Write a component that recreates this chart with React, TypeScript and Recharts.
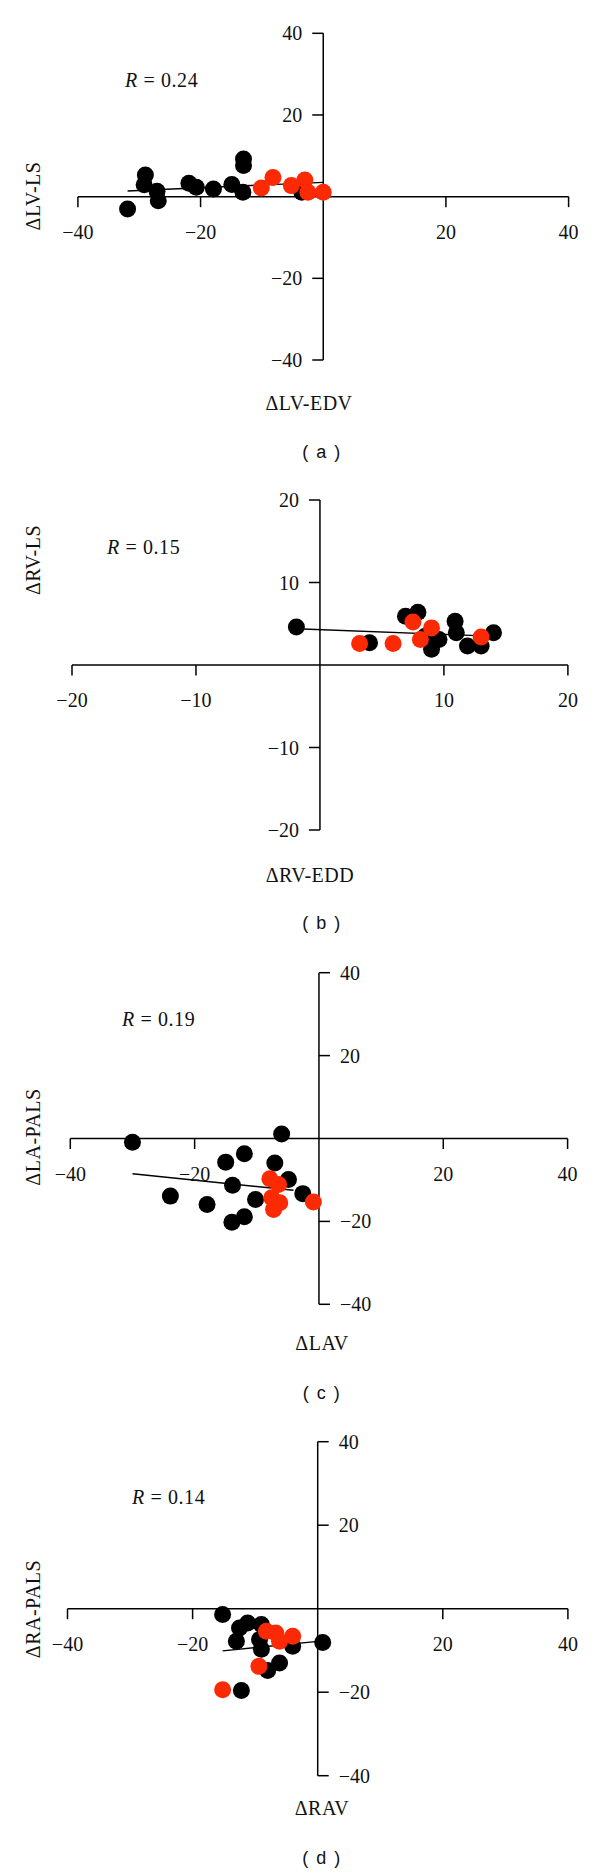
import React from 'react';
import { ScatterChart, Scatter, XAxis, YAxis, ReferenceLine, ReferenceDot } from 'recharts';

type Pt = { x: number; y: number };

// (a) ΔLV-EDV vs ΔLV-LS
const lvBlack: Pt[] = [
  { x: -31.9, y: -3.0 }, { x: -29.0, y: 5.3 }, { x: -29.2, y: 2.9 }, { x: -27.1, y: 1.3 },
  { x: -26.9, y: -1.0 }, { x: -21.9, y: 3.3 }, { x: -20.7, y: 2.3 }, { x: -17.9, y: 1.9 },
  { x: -14.9, y: 3.0 }, { x: -13.0, y: 9.2 }, { x: -13.0, y: 7.6 }, { x: -13.1, y: 1.1 },
  { x: -3.5, y: 1.1 },
];
const lvRed: Pt[] = [
  { x: -10.1, y: 2.1 }, { x: -8.2, y: 4.7 }, { x: -5.2, y: 2.7 }, { x: -3.0, y: 4.1 },
  { x: -2.5, y: 1.1 }, { x: 0.0, y: 1.1 },
];
const lvFit: Pt[] = [{ x: -31.9, y: 1.4 }, { x: 0, y: 3.5 }];

// (b) ΔRV-EDD vs ΔRV-LS
const rvBlack: Pt[] = [
  { x: -1.9, y: 4.6 }, { x: 4.0, y: 2.7 }, { x: 6.9, y: 5.9 }, { x: 7.9, y: 6.4 },
  { x: 8.5, y: 3.5 }, { x: 9.6, y: 3.1 }, { x: 9.0, y: 1.9 }, { x: 10.9, y: 5.3 },
  { x: 11.0, y: 3.9 }, { x: 11.9, y: 2.3 }, { x: 13.0, y: 2.3 }, { x: 14.0, y: 3.9 },
];
const rvRed: Pt[] = [
  { x: 3.2, y: 2.6 }, { x: 5.9, y: 2.6 }, { x: 7.5, y: 5.2 }, { x: 9.0, y: 4.5 },
  { x: 8.1, y: 3.1 }, { x: 13.0, y: 3.4 },
];
const rvFit: Pt[] = [{ x: -1.9, y: 4.4 }, { x: 13.75, y: 3.5 }];

// (c) ΔLAV vs ΔLA-PALS
const laBlack: Pt[] = [
  { x: -30.0, y: -0.9 }, { x: -6.0, y: 1.1 }, { x: -12.0, y: -3.7 }, { x: -15.0, y: -5.7 },
  { x: -7.1, y: -5.9 }, { x: -4.9, y: -9.9 }, { x: -13.9, y: -11.3 }, { x: -23.9, y: -13.9 },
  { x: -18.0, y: -15.9 }, { x: -10.2, y: -14.7 }, { x: -2.6, y: -13.3 }, { x: -12.0, y: -18.9 },
  { x: -14.0, y: -20.2 },
];
const laRed: Pt[] = [
  { x: -7.9, y: -9.7 }, { x: -6.5, y: -11.1 }, { x: -7.6, y: -14.3 }, { x: -6.3, y: -15.5 },
  { x: -7.3, y: -17.1 }, { x: -0.9, y: -15.3 },
];
const laFit: Pt[] = [{ x: -30.0, y: -8.5 }, { x: -4.1, y: -12.5 }];

// (d) ΔRAV vs ΔRA-PALS
const raBlack: Pt[] = [
  { x: -15.2, y: -1.4 }, { x: -11.2, y: -3.4 }, { x: -12.5, y: -4.6 }, { x: -9.0, y: -3.8 },
  { x: -13.0, y: -7.8 }, { x: -9.3, y: -7.4 }, { x: -9.0, y: -9.7 }, { x: -4.0, y: -9.0 },
  { x: 0.8, y: -8.1 }, { x: -6.1, y: -13.0 }, { x: -8.0, y: -14.8 }, { x: -12.2, y: -19.6 },
];
const raRed: Pt[] = [
  { x: -8.2, y: -5.4 }, { x: -6.7, y: -5.8 }, { x: -4.0, y: -6.6 }, { x: -6.1, y: -7.8 },
  { x: -9.4, y: -13.8 }, { x: -15.2, y: -19.4 },
];
const raFit: Pt[] = [{ x: -15.2, y: -10.1 }, { x: 0.8, y: -7.7 }];

const ticks40 = [-40, -20, 20, 40];
const ticks20 = [-20, -10, 10, 20];

const SERIF = "'Liberation Serif', 'DejaVu Serif', serif";
const SANS = "'Liberation Sans', Arial, sans-serif";
const RED = '#fb2a05';
const R = 8.5;
const FS = 20;

const fmt = (v: number) => (v < 0 ? '\u2212' + Math.abs(v) : String(v));

const dot = (fill: string) => (p: any) => <circle cx={p.cx} cy={p.cy} r={R} fill={fill} />;

type Geo = { top: number; h: number; left: number; right: number; pTop: number; pBottom: number };

function Panel({
  geo, black, red, fit, xTicks, yTicks, max, yMax, ySide,
}: {
  geo: Geo; black: Pt[]; red: Pt[]; fit: Pt[]; xTicks: number[]; yTicks: number[];
  max: number; yMax: number; ySide: 'left' | 'right';
}) {
  const margin = {
    top: geo.pTop - geo.top,
    bottom: geo.top + geo.h - geo.pBottom,
    left: geo.left,
    right: 600 - geo.right,
  };
  const xTick = (v: number) => (p: any) => (
    <g>
      <line x1={p.cx} y1={p.cy} x2={p.cx} y2={p.cy + 10.5} stroke="#000" strokeWidth={1.5} />
      <text x={p.cx} y={p.cy + 35} textAnchor="middle" dominantBaseline="central"
        fontFamily={SERIF} fontSize={FS} fill="#111">{fmt(v)}</text>
    </g>
  );
  const yTick = (v: number) => (p: any) => {
    const d = ySide === 'left' ? -1 : 1;
    return (
      <g>
        <line x1={p.cx} y1={p.cy} x2={p.cx + d * 11} y2={p.cy} stroke="#000" strokeWidth={1.5} />
        <text x={p.cx + d * 21} y={p.cy} textAnchor={ySide === 'left' ? 'end' : 'start'}
          dominantBaseline="central" fontFamily={SERIF} fontSize={FS} fill="#111">{fmt(v)}</text>
      </g>
    );
  };
  return (
    <div style={{ position: 'absolute', left: 0, top: geo.top }}>
      <ScatterChart width={600} height={geo.h} margin={margin}>
        <XAxis type="number" dataKey="x" domain={[-max, max]} allowDataOverflow hide />
        <YAxis type="number" dataKey="y" domain={[-yMax, yMax]} allowDataOverflow hide />
        <ReferenceLine y={0} stroke="#000" strokeWidth={1.5} />
        <ReferenceLine x={0} stroke="#000" strokeWidth={1.5} />
        {xTicks.map((v) => (
          <ReferenceDot key={'x' + v} x={v} y={0} r={0} ifOverflow="visible" shape={xTick(v)} />
        ))}
        {yTicks.map((v) => (
          <ReferenceDot key={'y' + v} x={0} y={v} r={0} ifOverflow="visible" shape={yTick(v)} />
        ))}
        <Scatter data={black} isAnimationActive={false} shape={dot('#000')} />
        <Scatter data={red} isAnimationActive={false} shape={dot(RED)} />
        <ReferenceLine segment={fit} stroke="#000" strokeWidth={1.4} ifOverflow="visible" />
      </ScatterChart>
    </div>
  );
}

const labels = [
  { r: 'R', v: ' = 0.24', rx: 125, ry: 80, xt: '\u0394LV-EDV', xx: 309, xy: 403, yt: '\u0394LV-LS', yy: 196, l: '( a )', ly: 452 },
  { r: 'R', v: ' = 0.15', rx: 107, ry: 547, xt: '\u0394RV-EDD', xx: 310, xy: 875, yt: '\u0394RV-LS', yy: 560, l: '( b )', ly: 923 },
  { r: 'R', v: ' = 0.19', rx: 122, ry: 1019, xt: '\u0394LAV', xx: 322, xy: 1343, yt: '\u0394LA-PALS', yy: 1137, l: '( c )', ly: 1393 },
  { r: 'R', v: ' = 0.14', rx: 132, ry: 1497, xt: '\u0394RAV', xx: 322, xy: 1808, yt: '\u0394RA-PALS', yy: 1609, l: '( d )', ly: 1858 },
];

export default function App() {
  return (
    <div style={{ position: 'absolute', left: 0, top: 0, width: 600, height: 1874, background: '#fff' }}>
      <Panel geo={{ top: 0, h: 470, left: 77.9, right: 568.6, pTop: 33.3, pBottom: 360 }}
        black={lvBlack} red={lvRed} fit={lvFit} xTicks={ticks40} yTicks={ticks40} max={40} yMax={40} ySide="left" />
      <Panel geo={{ top: 470, h: 470, left: 72, right: 567.9, pTop: 500, pBottom: 830 }}
        black={rvBlack} red={rvRed} fit={rvFit} xTicks={ticks20} yTicks={ticks20} max={20} yMax={20} ySide="left" />
      <Panel geo={{ top: 940, h: 470, left: 70.3, right: 567.6, pTop: 972.7, pBottom: 1304.3 }}
        black={laBlack} red={laRed} fit={laFit} xTicks={ticks40} yTicks={ticks40} max={40} yMax={40} ySide="right" />
      <Panel geo={{ top: 1410, h: 464, left: 67.5, right: 567.9, pTop: 1441.7, pBottom: 1775.7 }}
        black={raBlack} red={raRed} fit={raFit} xTicks={ticks40} yTicks={ticks40} max={40} yMax={40} ySide="right" />
      <svg width={600} height={1874} style={{ position: 'absolute', left: 0, top: 0, pointerEvents: 'none' }}>
        {labels.map((t) => (
          <g key={t.l} fontFamily={SERIF} fontSize={FS} fill="#111">
            <text x={t.rx} y={t.ry} dominantBaseline="central" letterSpacing={0.6}>
              <tspan fontStyle="italic">{t.r}</tspan>{t.v}
            </text>
            <text x={t.xx} y={t.xy} textAnchor="middle" dominantBaseline="central" letterSpacing={0.5}>{t.xt}</text>
            <text x={33} y={t.yy} textAnchor="middle" dominantBaseline="central" letterSpacing={0.5}
              transform={`rotate(-90 33 ${t.yy})`}>{t.yt}</text>
            <text x={322} y={t.ly} textAnchor="middle" dominantBaseline="central"
              fontFamily={SANS} fontSize={18} letterSpacing={1.5}>{t.l}</text>
          </g>
        ))}
      </svg>
    </div>
  );
}
